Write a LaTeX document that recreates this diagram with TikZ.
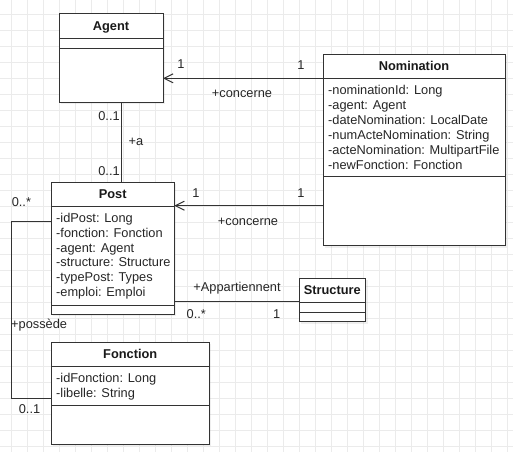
\documentclass[tikz,border=0pt]{standalone}
\usepackage{fontspec}
\setmainfont{Liberation Sans}
\usetikzlibrary{arrows.meta,shadows}

\begin{document}
\begin{tikzpicture}[x=1pt,y=-1pt,
  font=\fontsize{12.8}{16}\selectfont,
  classbox/.style={draw=black!80, line width=1pt, fill=white, anchor=north west,
    inner sep=0pt, outer sep=0pt,
    drop shadow={shadow xshift=2pt, shadow yshift=-2pt, opacity=0.12}},
  title/.style={anchor=base, text=black!90, font=\fontsize{12.8}{16}\selectfont\bfseries},
  attr/.style={anchor=base west, inner sep=0pt, text=black!85},
  sep/.style={draw=black!80, line width=1pt},
  assoc/.style={draw=black!80, line width=1pt},
  opentip/.style={-{Straight Barb[length=9pt,width=9pt,line width=1pt]}},
  mult/.style={anchor=base, inner sep=0pt, text=black!85}]
\useasboundingbox (0,0) rectangle (513,452);
\fill[white] (0,0) rectangle (513,452);
% grid
\foreach \k in {0,...,31} {
  \draw[black!8, line width=0.6pt] ({11.7+16*\k},0) -- ({11.7+16*\k},452);
}
\foreach \k in {0,...,27} {
  \draw[black!8, line width=0.6pt] (0,{14.3+16*\k}) -- (513,{14.3+16*\k});
}

% Agent
\node[classbox, minimum width=104pt, minimum height=88pt] (agent) at (59,14) {};
\node[title] (agenttitle) at (111,30.6) {Agent};
\draw[sep] ([yshift=-24.7pt]agent.north west) -- ([yshift=-24.7pt]agent.north east);
\draw[sep] ([yshift=-35pt]agent.north west) -- ([yshift=-35pt]agent.north east);

% Nomination
\node[classbox, minimum width=182pt, minimum height=191.7pt] (nomination) at (323,54) {};
\node[title] (nomtitle) at (414,70.5) {Nomination};
\draw[sep] ([yshift=-24.3pt]nomination.north west) -- ([yshift=-24.3pt]nomination.north east);
\draw[sep] ([yshift=-122.7pt]nomination.north west) -- ([yshift=-122.7pt]nomination.north east);
\foreach \txt [count=\i from 0] in {-nominationId: Long, -agent: Agent,
    -dateNomination: LocalDate, -numActeNomination: String,
    -acteNomination: MultipartFile, -newFonction: Fonction} {
  \node[attr] (nomattr\i) at (328,{94.5+15*\i}) {\txt};
}

% Post
\node[classbox, minimum width=123.3pt, minimum height=131.7pt] (post) at (51,182.3) {};
\node[title] (posttitle) at (112.7,198.8) {Post};
\draw[sep] ([yshift=-24.4pt]post.north west) -- ([yshift=-24.4pt]post.north east);
\draw[sep] ([yshift=-122.7pt]post.north west) -- ([yshift=-122.7pt]post.north east);
\foreach \txt [count=\i from 0] in {-idPost: Long, -fonction: Fonction,
    -agent: Agent, -structure: Structure, -typePost: Types, -emploi: Emploi} {
  \node[attr] (postattr\i) at (56,{222.5+14.8*\i}) {\txt};
}

% Structure
\node[classbox, minimum width=66.7pt, minimum height=43.4pt] (structure) at (299,278.3) {};
\node[title] (strtitle) at (332.3,294.8) {Structure};
\draw[sep] ([yshift=-24.4pt]structure.north west) -- ([yshift=-24.4pt]structure.north east);
\draw[sep] ([yshift=-34.4pt]structure.north west) -- ([yshift=-34.4pt]structure.north east);

% Fonction
\node[classbox, minimum width=158.3pt, minimum height=101.7pt] (fonction) at (51,342.3) {};
\node[title] (fontitle) at (130.2,358.8) {Fonction};
\draw[sep] ([yshift=-24.4pt]fonction.north west) -- ([yshift=-24.4pt]fonction.north east);
\draw[sep] ([yshift=-62.7pt]fonction.north west) -- ([yshift=-62.7pt]fonction.north east);
\node[attr] (fonattr0) at (56,382) {-idFonction: Long};
\node[attr] (fonattr1) at (56,397) {-libelle: String};

% associations
\coordinate (nomtop) at ([yshift=-24.3pt]nomination.north west);
\draw[assoc, opentip] (nomtop) -- (nomtop -| agent.east);
\coordinate (posthead) at ([yshift=-23.4pt]post.north east);
\draw[assoc, opentip] (posthead -| nomination.west) -- (posthead);
\coordinate (agentfoot) at ([xshift=10.7pt]agent.south);
\draw[assoc] (agentfoot) -- (agentfoot |- post.north);
\coordinate (strhead) at ([yshift=-23.4pt]structure.north west);
\draw[assoc] (strhead -| post.east) -- (strhead);
\coordinate (postleft) at ([yshift=-39.4pt]post.north west);
\coordinate (fonleft) at ([yshift=-56pt]fonction.north west);
\coordinate (bend) at (11.7,0);
\draw[assoc] (postleft) -- (postleft -| bend) -- (fonleft -| bend) -- (fonleft);

% multiplicities and roles
\node[mult] (m1) at (181,68.6) {1};
\node[mult] (m2) at (301,69.3) {1};
\node[mult] (r1) at (242,97) {+concerne};
\node[mult] (m3) at (109,120.3) {0..1};
\node[mult] (r2) at (136,145) {+a};
\node[mult] (m4) at (109,175.6) {0..1};
\node[mult] (m5) at (196,197) {1};
\node[mult] (m6) at (301,197) {1};
\node[mult] (r3) at (248,225) {+concerne};
\node[mult] (m7) at (21.4,206.6) {0..*};
\node[mult] (r4) at (237,291) {+Appartiennent};
\node[mult] (m8) at (196.3,318) {0..*};
\node[mult] (m9) at (276.7,318) {1};
\node[mult, anchor=base west] (r5) at (11,328.3) {+possède};
\node[mult] (m10) at (29.5,413.3) {0..1};
\end{tikzpicture}
\end{document}
